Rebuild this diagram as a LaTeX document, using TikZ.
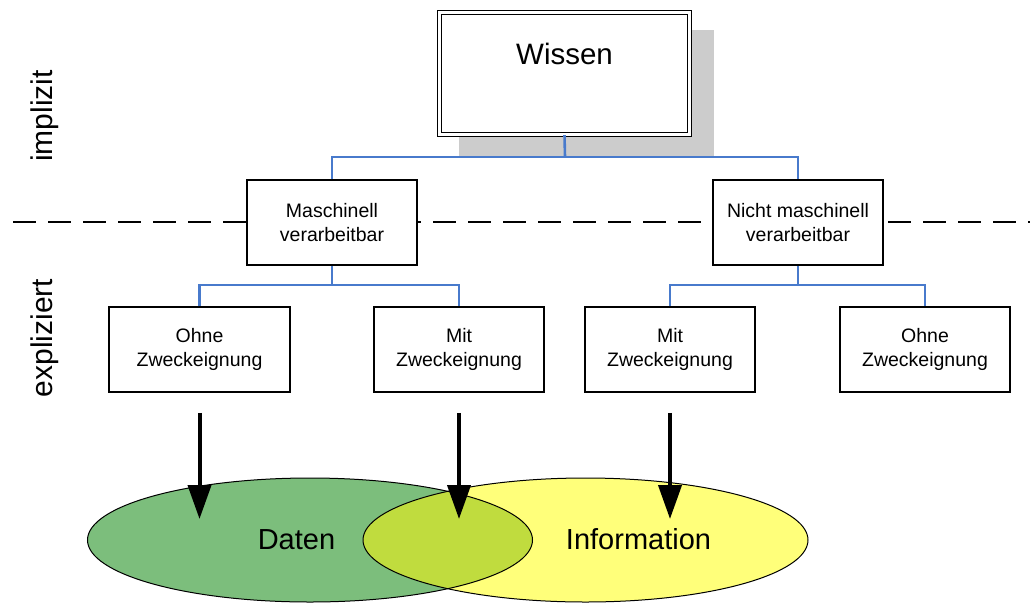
\documentclass[tikz,border=0pt]{standalone}
\usepackage{fontspec}
\setmainfont{Liberation Sans}
\usetikzlibrary{arrows.meta}
\definecolor{linkblue}{RGB}{72,122,204}
\definecolor{shadowgray}{RGB}{204,204,204}
\definecolor{datengreen}{RGB}{124,190,124}
\definecolor{infoyellow}{RGB}{255,255,122}
\definecolor{overlapgreen}{RGB}{192,220,62}
\begin{document}
\begin{tikzpicture}[x=1pt,y=-1pt,
  topbox/.style={draw, fill=white, line width=1.3pt, double, double distance=2.2pt,
    minimum width=250pt, minimum height=122pt, inner sep=0pt},
  catbox/.style={draw, fill=white, line width=1.5pt, minimum width=170pt,
    minimum height=85pt, inner sep=0pt, align=center,
    font=\fontsize{19.5}{24.5}\selectfont},
  link/.style={draw=linkblue, line width=2.6pt},
  flow/.style={line width=4pt, -{Triangle[length=34pt,width=23pt]}},
  divider/.style={line width=2.8pt, dash pattern=on 23pt off 12pt},
  sidelabel/.style={rotate=90, font=\fontsize{30}{36}\selectfont},
  biglabel/.style={font=\fontsize{29.5}{35}\selectfont, anchor=base},
  setoutline/.style={draw=black, line width=1pt}
]
\useasboundingbox (0,0) rectangle (1030,603);

% separator between implicit and explicit knowledge
\coordinate (divL) at (13,222);
\coordinate (divR) at (1030,222);
\draw[divider] (divL) -- (divR);

% side labels
\node[sidelabel] (impl) at (45,116) {implizit};
\node[sidelabel] (expl) at (45,338) {expliziert};

% top node with drop shadow
\fill[shadowgray] (459,30) rectangle (714,157);
\node[topbox] (wissen) at (564.5,73.5) {};
\node[biglabel] (wissenText) at (564.5,64) {Wissen};

% second level
\node[catbox] (mv) at (332,222.5) {Maschinell\\verarbeitbar};
\node[catbox] (nmv) at (798,222.5) {Nicht maschinell\\verarbeitbar};

% third level
\node[catbox, minimum width=181pt] (oz1) at (199.5,349.5) {Ohne\\Zweckeignung};
\node[catbox] (mz1) at (459,349.5) {Mit\\Zweckeignung};
\node[catbox] (mz2) at (670,349.5) {Mit\\Zweckeignung};
\node[catbox] (oz2) at (925,349.5) {Ohne\\Zweckeignung};

% tree connectors
\coordinate (bus0) at (565,157);
\coordinate (bus1) at (332,285);
\coordinate (bus2) at (798,285);
\draw[link] (wissen.south) -- (bus0);
\draw[link] (mv.north) |- (bus0) -| (nmv.north);
\draw[link] (mv.south) -- (bus1);
\draw[link] (oz1.north) |- (bus1) -| (mz1.north);
\draw[link] (nmv.south) -- (bus2);
\draw[link] (mz2.north) |- (bus2) -| (oz2.north);

% sets: data and information
\fill[datengreen] (310,540) ellipse [x radius=222.5pt, y radius=62pt];
\fill[infoyellow] (585.5,540) ellipse [x radius=222.5pt, y radius=62pt];
\begin{scope}
  \clip (310,540) ellipse [x radius=222.5pt, y radius=62pt];
  \fill[overlapgreen] (585.5,540) ellipse [x radius=222.5pt, y radius=62pt];
\end{scope}
\draw[setoutline] (310,540) ellipse [x radius=222.5pt, y radius=62pt];
\draw[setoutline] (585.5,540) ellipse [x radius=222.5pt, y radius=62pt];
\node[font=\fontsize{29}{35}\selectfont, anchor=base] (daten) at (296.5,549) {Daten};
\node[font=\fontsize{29}{35}\selectfont, anchor=base] (info) at (638.5,549) {Information};

% mapping arrows
\coordinate (t1) at (199.5,519);
\coordinate (t2) at (459,519);
\coordinate (t3) at (670,519);
\draw[flow] ([yshift=-20pt]oz1.south) -- (t1);
\draw[flow] ([yshift=-20pt]mz1.south) -- (t2);
\draw[flow] ([yshift=-20pt]mz2.south) -- (t3);
\end{tikzpicture}
\end{document}
